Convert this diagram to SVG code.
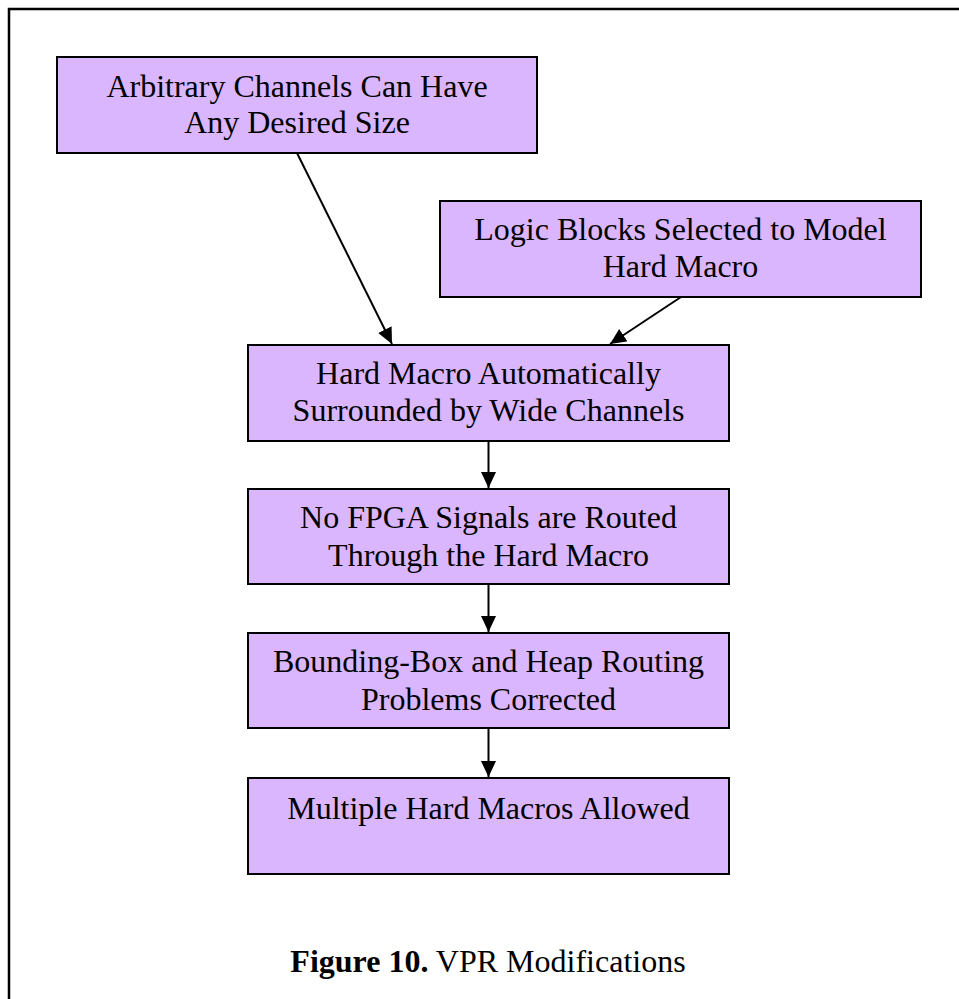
<svg xmlns="http://www.w3.org/2000/svg" width="959" height="999" viewBox="0 0 959 999">
<style>
.box{fill:#dab6fe;stroke:#000;stroke-width:2}
.t{font-family:"Liberation Serif","Times New Roman",serif;font-size:32px;fill:#000;text-anchor:middle}
.c{stroke:#000;stroke-width:2;fill:none}
</style>
<defs>
<marker id="ah" markerUnits="userSpaceOnUse" markerWidth="17" markerHeight="16" refX="16" refY="7.5" orient="auto">
<path d="M0,0 L16,7.5 L0,15 z" fill="#000"/>
</marker>
</defs>
<rect width="959" height="999" fill="#fff"/>
<path d="M9,999 V9 H959" fill="none" stroke="#000" stroke-width="2.5"/>
<g id="connectors">
<line class="c" x1="297" y1="153" x2="392" y2="344" marker-end="url(#ah)"/>
<line class="c" x1="681" y1="297" x2="610" y2="344" marker-end="url(#ah)"/>
<line class="c" x1="488.5" y1="441" x2="488.5" y2="488" marker-end="url(#ah)"/>
<line class="c" x1="488.5" y1="584" x2="488.5" y2="632" marker-end="url(#ah)"/>
<line class="c" x1="488.5" y1="728" x2="488.5" y2="777" marker-end="url(#ah)"/>
</g>
<g id="n1">
<rect class="box" x="57" y="57" width="480" height="96"/>
<text class="t" x="297" y="97">Arbitrary Channels Can Have</text>
<text class="t" x="297" y="133">Any Desired Size</text>
</g>
<g id="n2">
<rect class="box" x="440" y="201" width="481" height="96"/>
<text class="t" x="680.5" y="240">Logic Blocks Selected to Model</text>
<text class="t" x="680.5" y="277">Hard Macro</text>
</g>
<g id="n3">
<rect class="box" x="248" y="345" width="481" height="96"/>
<text class="t" x="488.5" y="384">Hard Macro Automatically</text>
<text class="t" x="488.5" y="421">Surrounded by Wide Channels</text>
</g>
<g id="n4">
<rect class="box" x="248" y="489" width="481" height="95"/>
<text class="t" x="488.5" y="528">No FPGA Signals are Routed</text>
<text class="t" x="488.5" y="566">Through the Hard Macro</text>
</g>
<g id="n5">
<rect class="box" x="248" y="633" width="481" height="95"/>
<text class="t" x="488.5" y="672">Bounding-Box and Heap Routing</text>
<text class="t" x="488.5" y="710">Problems Corrected</text>
</g>
<g id="n6">
<rect class="box" x="248" y="778" width="481" height="96"/>
<text class="t" x="488.5" y="819">Multiple Hard Macros Allowed</text>
</g>
<text class="t" x="488" y="972"><tspan font-weight="bold">Figure 10.</tspan> VPR Modifications</text>
</svg>
